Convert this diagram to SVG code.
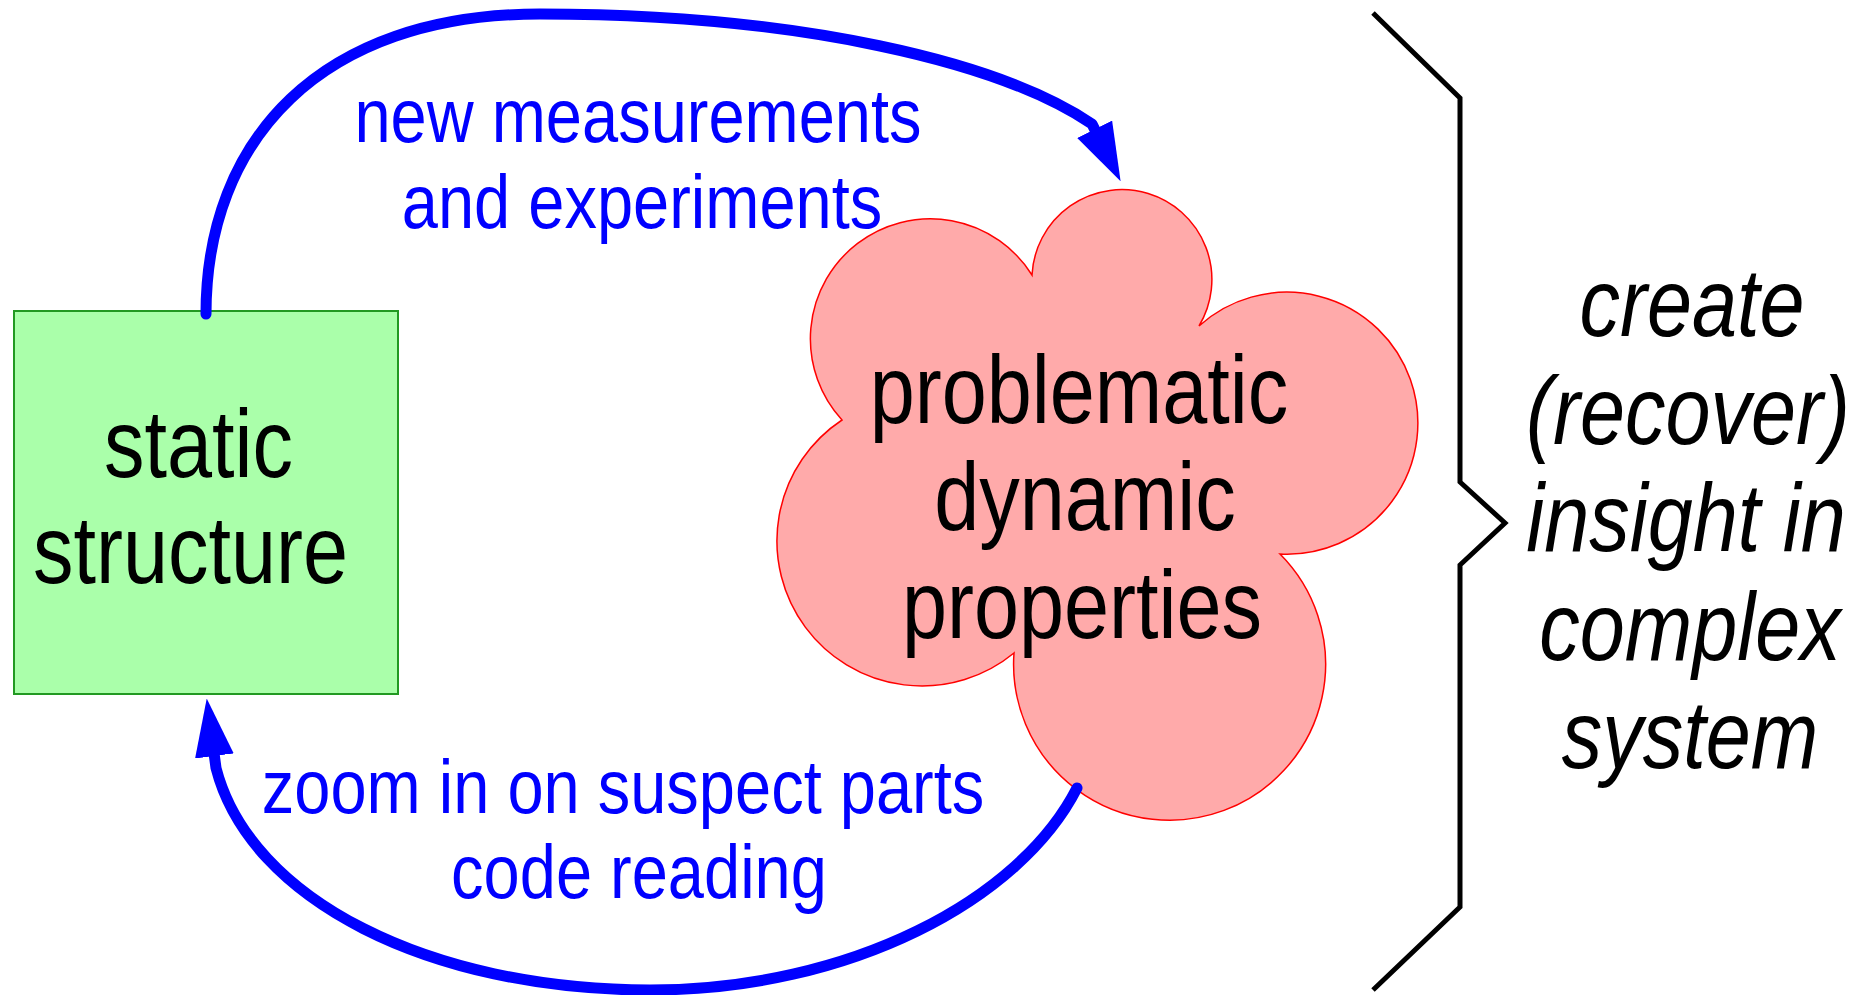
<svg xmlns="http://www.w3.org/2000/svg" width="1863" height="995" viewBox="0 0 1863 995">
<style>
  .lbl { font-family: "Liberation Sans", Arial, sans-serif; text-anchor: middle; }
  .big { font-size: 81px; fill: #000000; }
  .blue { font-size: 65px; fill: #0000ff; }
  .ital { font-style: italic; }
  .conn { fill: none; stroke: #0000ff; stroke-width: 11; stroke-linecap: round; stroke-linejoin: round; marker-end: url(#ah); }
</style>
<defs>
  <marker id="ah" markerUnits="userSpaceOnUse" viewBox="0 0 58 40" markerWidth="58" markerHeight="40" refX="3" refY="19.5" orient="auto">
    <path d="M0,0 L58,19.5 L0,39 z" fill="#0000ff"/>
  </marker>
</defs>
<rect width="1863" height="995" fill="#ffffff"/>

<g id="static-structure">
  <rect x="14" y="311" width="384" height="383" fill="#aaffaa" stroke="#229922" stroke-width="2"/>
  <text class="lbl big" transform="matrix(1 0 0 1.18 198.5 477)">static</text>
  <text class="lbl big" transform="matrix(1 0 0 1.18 190.5 583)">structure</text>
</g>

<g id="dynamic-properties">
  <path d="M1032,275 A90,90 0 1 1 1199,326 A131,131 0 1 1 1280,554 A156,156 0 1 1 1014,653 A145,145 0 1 1 842,420 A120,120 0 1 1 1032,275 Z" fill="#ffaaaa" stroke="#ff0000" stroke-width="1.5"/>
  <text class="lbl big" transform="matrix(1 0 0 1.18 1079 423)">problematic</text>
  <text class="lbl big" transform="matrix(1 0 0 1.18 1085 530)">dynamic</text>
  <text class="lbl big" transform="matrix(1 0 0 1.18 1082 638)">properties</text>
</g>

<g id="connectors">
  <g id="edge-measurements">
    <path class="conn" d="M206,314 C206,140 320,14 540,14 C800,14 1000,62 1092,124 L1096,132"/>
    <text class="lbl blue" transform="matrix(1 0 0 1.18 638 142)">new measurements</text>
    <text class="lbl blue" transform="matrix(1 0 0 1.18 642 228)">and experiments</text>
  </g>
  <g id="edge-zoom">
    <path class="conn" d="M1077,788 C1020,900 850,990 650,990 C430,990 250,900 216,768 L214,753"/>
    <text class="lbl blue" transform="matrix(1 0 0 1.18 623 813)">zoom in on suspect parts</text>
    <text class="lbl blue" transform="matrix(1 0 0 1.18 639 898)">code reading</text>
  </g>
</g>

<g id="insight">
  <polyline points="1373,13 1460,98 1460,482 1505,523 1460,565 1460,907 1373,990" fill="none" stroke="#000000" stroke-width="5" stroke-linejoin="miter"/>
  <text class="lbl big ital" transform="matrix(1 0 0 1.18 1692 336)">create</text>
  <text class="lbl big ital" transform="matrix(1 0 0 1.18 1688 444)">(recover)</text>
  <text class="lbl big ital" transform="matrix(1 0 0 1.18 1686 551)">insight in</text>
  <text class="lbl big ital" transform="matrix(1 0 0 1.18 1690 660)">complex</text>
  <text class="lbl big ital" transform="matrix(1 0 0 1.18 1690 768)">system</text>
</g>
</svg>
